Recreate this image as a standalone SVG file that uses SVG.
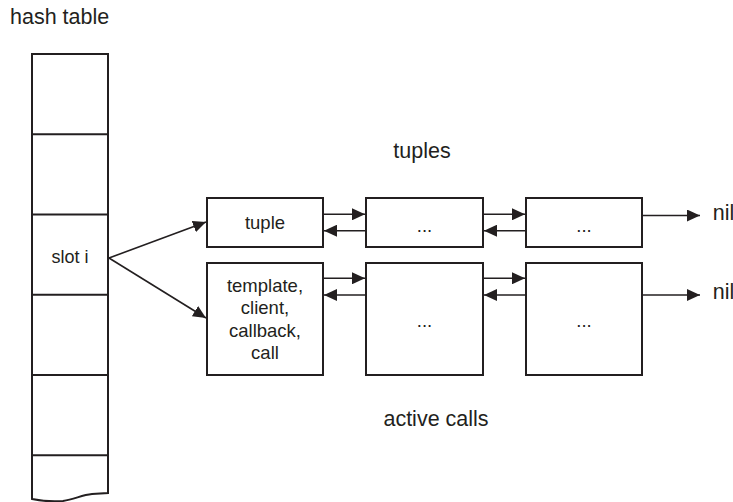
<svg xmlns="http://www.w3.org/2000/svg" width="733" height="502" viewBox="0 0 733 502">
<style>
  text { font-family: "Liberation Sans", Arial, sans-serif; fill: #231f20; }
  .big { font-size: 21.5px; }
  .lbl { font-size: 18.5px; text-anchor: middle; }
  .box { fill: #ffffff; stroke: #231f20; stroke-width: 2; }
  .ln { fill: none; stroke: #231f20; stroke-width: 2; }
  .conn path { fill: none; stroke: #231f20; stroke-width: 1.6; marker-end: url(#ah); }
</style>
<defs>
  <marker id="ah" markerUnits="userSpaceOnUse" markerWidth="13" markerHeight="12" refX="13" refY="6" orient="auto">
    <path d="M0,0 L13,6 L0,12 z" fill="#231f20"/>
  </marker>
</defs>
<rect width="733" height="502" fill="#ffffff"/>

<text class="big" x="10" y="24">hash table</text>
<text class="big" x="422" y="158" text-anchor="middle">tuples</text>
<text class="big" x="436" y="426" text-anchor="middle">active calls</text>

<g id="hashtable">
  <path class="ln" d="M32,54 H108 V493 L92,494 C82,495 75,499 63,501 C52,502 42,501 32,499 Z"/>
  <line class="ln" x1="32" y1="134.2" x2="108" y2="134.2"/>
  <line class="ln" x1="32" y1="214.6" x2="108" y2="214.6"/>
  <line class="ln" x1="32" y1="294.8" x2="108" y2="294.8"/>
  <line class="ln" x1="32" y1="375" x2="108" y2="375"/>
  <line class="ln" x1="32" y1="455.2" x2="108" y2="455.2"/>
  <text x="70" y="262.7" style="font-size:18px;text-anchor:middle">slot i</text>
</g>

<g id="tuple">
  <rect class="box" x="207" y="198" width="116" height="49"/>
  <text class="lbl" x="265" y="229">tuple</text>
</g>
<g id="tuple2">
  <rect class="box" x="366" y="198" width="117" height="49"/>
  <text class="lbl" x="424.5" y="232">...</text>
</g>
<g id="tuple3">
  <rect class="box" x="526" y="198" width="116" height="49"/>
  <text class="lbl" x="584" y="232">...</text>
</g>

<g id="call1">
  <rect class="box" x="207" y="263" width="116" height="112"/>
  <text class="lbl" x="265" y="291.5">template,</text>
  <text class="lbl" x="265" y="314">client,</text>
  <text class="lbl" x="265" y="336.5">callback,</text>
  <text class="lbl" x="265" y="359">call</text>
</g>
<g id="call2">
  <rect class="box" x="366" y="263" width="117" height="112"/>
  <text class="lbl" x="424.5" y="327">...</text>
</g>
<g id="call3">
  <rect class="box" x="526" y="263" width="116" height="112"/>
  <text class="lbl" x="584" y="327">...</text>
</g>

<g id="nil1"><text class="big" x="712.7" y="220">nil</text></g>
<g id="nil2"><text class="big" x="712.7" y="298.5">nil</text></g>

<g class="conn" id="connectors">
  <path d="M109,258 L206,222"/>
  <path d="M109,258 L206,318"/>
  <path d="M323,214.3 L365,214.3"/>
  <path d="M366,230.7 L324,230.7"/>
  <path d="M483,214.3 L525,214.3"/>
  <path d="M526,230.7 L484,230.7"/>
  <path d="M323,278.3 L365,278.3"/>
  <path d="M366,295 L324,295"/>
  <path d="M483,278.3 L525,278.3"/>
  <path d="M526,295 L484,295"/>
  <path d="M642,215.5 L700,215.5"/>
  <path d="M642,295 L700,295"/>
</g>
</svg>
